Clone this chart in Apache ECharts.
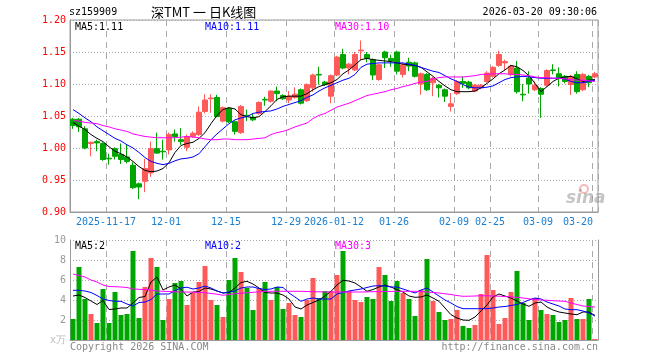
<!DOCTYPE html>
<html><head><meta charset="utf-8">
<script src="https://cdn.jsdelivr.net/npm/echarts@6/dist/echarts.min.js"></script>
<style>html,body{margin:0;padding:0;background:#fff}#c{width:660px;height:360px}</style>
</head><body><div id="c"></div><script>
const dates = ['2025-11-07','2025-11-10','2025-11-11','2025-11-12','2025-11-13','2025-11-14','2025-11-17','2025-11-18','2025-11-19','2025-11-20',
'2025-11-21','2025-11-24','2025-11-25','2025-11-26','2025-11-27','2025-11-28','2025-12-01','2025-12-02','2025-12-03','2025-12-04',
'2025-12-05','2025-12-08','2025-12-09','2025-12-10','2025-12-11','2025-12-12','2025-12-15','2025-12-16','2025-12-17','2025-12-18',
'2025-12-19','2025-12-22','2025-12-23','2025-12-24','2025-12-25','2025-12-26','2025-12-29','2025-12-30','2025-12-31','2026-01-05',
'2026-01-06','2026-01-07','2026-01-08','2026-01-09','2026-01-12','2026-01-13','2026-01-14','2026-01-15','2026-01-16','2026-01-19',
'2026-01-20','2026-01-21','2026-01-22','2026-01-23','2026-01-26','2026-01-27','2026-01-28','2026-01-29','2026-01-30','2026-02-02',
'2026-02-03','2026-02-04','2026-02-05','2026-02-06','2026-02-09','2026-02-10','2026-02-11','2026-02-12','2026-02-13','2026-02-24',
'2026-02-25','2026-02-26','2026-02-27','2026-03-02','2026-03-03','2026-03-04','2026-03-05','2026-03-06','2026-03-09','2026-03-10',
'2026-03-11','2026-03-12','2026-03-13','2026-03-16','2026-03-17','2026-03-18','2026-03-19','2026-03-20'];

const opens = [1.045,1.045,1.030,1.007,1.010,1.007,0.984,0.999,0.990,0.986,
0.973,0.944,0.948,0.961,0.999,0.995,0.997,1.022,1.013,1.001,
1.018,1.021,1.057,1.077,1.079,1.042,1.062,1.041,1.024,1.051,
1.048,1.054,1.076,1.073,1.089,1.082,1.075,1.079,1.091,1.074,
1.094,1.115,1.103,1.081,1.114,1.146,1.125,1.122,1.152,1.146,
1.138,1.107,1.150,1.140,1.150,1.115,1.134,1.133,1.100,1.115,
1.102,1.098,1.091,1.065,1.085,1.104,1.103,1.089,1.094,1.104,
1.112,1.129,1.133,1.115,1.125,1.084,1.109,1.091,1.093,1.098,
1.122,1.116,1.112,1.099,1.115,1.091,1.112,1.111];
const closes = [1.035,1.033,1.000,1.009,1.008,0.982,0.983,0.987,0.982,0.979,
0.938,0.939,0.968,0.999,0.992,0.994,1.021,1.018,1.010,1.018,
1.023,1.056,1.075,1.078,1.049,1.063,1.041,1.026,1.065,1.050,
1.044,1.071,1.075,1.089,1.085,1.077,1.081,1.084,1.070,1.099,
1.114,1.114,1.099,1.113,1.142,1.125,1.131,1.146,1.153,1.140,
1.114,1.130,1.141,1.136,1.120,1.130,1.128,1.112,1.116,1.091,
1.109,1.094,1.081,1.069,1.104,1.101,1.094,1.098,1.098,1.117,
1.126,1.146,1.135,1.128,1.088,1.083,1.100,1.098,1.084,1.121,
1.121,1.109,1.104,1.112,1.088,1.115,1.102,1.116];
const lows = [1.030,1.025,0.998,0.987,0.995,0.980,0.974,0.982,0.975,0.976,
0.936,0.920,0.931,0.955,0.991,0.982,0.990,1.010,1.005,0.995,
1.016,1.019,1.054,1.055,1.048,1.040,1.039,1.021,1.022,1.042,
1.042,1.052,1.066,1.071,1.073,1.075,1.070,1.077,1.068,1.072,
1.088,1.099,1.097,1.070,1.112,1.123,1.115,1.120,1.137,1.134,
1.106,1.105,1.125,1.127,1.115,1.110,1.120,1.110,1.083,1.089,
1.081,1.079,1.072,1.057,1.083,1.094,1.092,1.087,1.092,1.102,
1.110,1.127,1.122,1.112,1.085,1.073,1.085,1.089,1.047,1.096,
1.115,1.096,1.101,1.083,1.085,1.089,1.095,1.109];
const highs = [1.047,1.047,1.034,1.010,1.013,1.009,0.991,1.001,1.007,1.005,
0.978,0.946,0.983,1.010,1.024,1.013,1.024,1.029,1.031,1.021,
1.026,1.065,1.084,1.084,1.083,1.065,1.064,1.043,1.067,1.060,
1.053,1.073,1.080,1.090,1.096,1.084,1.089,1.095,1.093,1.101,
1.116,1.127,1.105,1.115,1.144,1.155,1.133,1.150,1.168,1.150,
1.140,1.132,1.152,1.146,1.152,1.132,1.141,1.135,1.118,1.117,
1.111,1.100,1.093,1.086,1.106,1.112,1.105,1.100,1.100,1.120,
1.128,1.152,1.138,1.130,1.136,1.100,1.120,1.104,1.095,1.123,
1.131,1.126,1.114,1.114,1.120,1.117,1.114,1.119];

const ma5 = [1.040,1.034,1.029,1.021,1.015,1.010,1.002,0.995,0.991,0.986,
0.979,0.971,0.965,0.963,0.964,0.968,0.977,0.993,1.004,1.007,
1.009,1.015,1.024,1.038,1.051,1.060,1.063,1.061,1.052,1.049,
1.047,1.049,1.057,1.066,1.076,1.080,1.081,1.081,1.081,1.085,
1.091,1.096,1.099,1.102,1.107,1.116,1.122,1.130,1.138,1.140,
1.138,1.137,1.136,1.135,1.133,1.131,1.130,1.129,1.126,1.119,
1.112,1.104,1.097,1.091,1.088,1.088,1.088,1.089,1.094,1.101,
1.108,1.116,1.122,1.129,1.127,1.121,1.113,1.101,1.088,1.096,
1.104,1.109,1.111,1.112,1.108,1.104,1.106,1.107];
const ma10 = [1.060,1.054,1.047,1.041,1.033,1.027,1.021,1.015,1.011,1.005,
1.000,0.993,0.985,0.979,0.976,0.974,0.976,0.980,0.983,0.984,
0.986,0.991,1.002,1.013,1.022,1.030,1.038,1.044,1.047,1.049,
1.054,1.056,1.057,1.058,1.061,1.065,1.068,1.071,1.074,1.079,
1.083,1.089,1.094,1.098,1.102,1.106,1.109,1.115,1.126,1.131,
1.132,1.133,1.133,1.133,1.133,1.133,1.131,1.129,1.126,1.123,
1.120,1.118,1.113,1.108,1.104,1.099,1.095,1.094,1.094,1.095,
1.097,1.102,1.107,1.110,1.111,1.112,1.111,1.110,1.109,1.109,
1.109,1.109,1.108,1.104,1.102,1.102,1.104,1.106];
const ma30 = [1.043,1.042,1.040,1.039,1.038,1.035,1.033,1.030,1.028,1.026,
1.022,1.020,1.018,1.017,1.016,1.016,1.016,1.016,1.017,1.018,
1.017,1.016,1.014,1.013,1.013,1.014,1.014,1.013,1.013,1.013,
1.014,1.015,1.016,1.021,1.024,1.026,1.029,1.033,1.036,1.039,
1.046,1.051,1.054,1.059,1.064,1.067,1.070,1.074,1.078,1.082,
1.084,1.086,1.088,1.091,1.093,1.096,1.098,1.101,1.103,1.104,
1.108,1.110,1.111,1.111,1.111,1.111,1.112,1.113,1.115,1.115,
1.116,1.116,1.116,1.115,1.115,1.114,1.113,1.111,1.110,1.110,
1.109,1.109,1.108,1.107,1.106,1.106,1.105,1.104];

const volumes = [2.1,7.3,4.1,2.6,1.7,5.1,1.7,4.8,2.5,2.6,
8.9,2.2,5.3,8.2,7.3,2.0,4.1,5.7,5.9,3.5,
4.7,5.8,7.4,4.0,3.5,2.3,6.0,8.2,6.8,5.2,
3.0,5.2,5.8,4.0,5.3,3.1,3.7,2.5,2.3,4.0,
6.2,4.2,4.9,4.9,6.5,8.9,4.9,4.0,3.8,4.3,
4.1,7.3,6.5,3.9,5.9,4.7,4.1,2.4,5.0,8.1,
3.9,2.8,2.0,2.1,3.0,1.4,1.2,1.5,4.6,8.5,
5.0,1.6,2.2,4.8,6.9,3.7,2.0,4.2,3.0,2.6,
2.5,1.8,2.0,4.2,2.1,2.1,4.1,0.1];
const vma5 = [4.4,4.5,4.25,3.9,3.55,3.95,3.05,3.1,3.2,3.2,
3.7,4.25,4.35,5.8,6.3,5.0,5.3,5.5,5.1,4.4,
4.8,4.85,5.2,5.1,4.9,4.7,4.75,5.2,5.75,5.87,
5.6,5.2,4.75,4.7,4.7,4.5,4.1,3.3,3.1,3.5,
3.75,4.0,4.4,4.87,5.5,5.97,5.9,5.7,5.3,4.87,
5.05,5.3,5.5,5.3,5.03,4.8,4.4,4.27,4.3,4.5,
4.2,3.87,3.2,2.53,2.2,2.0,1.97,2.3,2.9,3.5,
4.3,4.6,4.4,4.2,3.9,3.6,3.37,3.7,3.8,3.3,
3.0,2.8,2.7,2.6,2.53,2.8,2.8,2.45];
const vma10 = [4.97,4.97,4.9,4.75,4.45,4.1,3.95,3.87,3.87,3.6,
3.4,3.75,3.8,4.05,4.6,4.6,4.6,4.95,5.2,5.28,
5.1,5.2,5.4,5.2,4.9,4.7,4.8,4.9,5.2,5.3,
5.3,5.15,5.05,5.1,5.3,5.25,4.7,4.3,3.87,4.1,
4.2,4.1,4.1,4.1,4.6,4.75,4.9,5.0,5.1,5.25,
5.4,5.43,5.4,5.3,5.3,5.1,4.9,4.7,5.0,5.2,
4.8,4.4,4.0,3.7,3.35,3.13,3.13,3.13,3.13,3.13,
3.2,3.3,3.35,3.45,3.55,3.75,4.0,4.2,4.1,3.8,
3.6,3.4,3.1,3.03,3.03,2.9,2.7,2.4];
const vma30 = [6.6,6.45,6.3,6.0,5.8,5.5,5.35,5.33,5.3,5.25,
5.1,5.07,5.04,5.0,4.9,4.87,4.85,4.82,4.8,4.8,
4.78,4.77,4.72,4.65,4.58,4.47,4.55,4.63,4.68,4.72,
4.77,4.82,4.87,4.87,4.87,4.87,4.87,4.87,4.87,4.85,
4.83,4.82,4.8,4.8,4.8,4.8,4.8,4.8,4.8,4.81,
4.83,4.84,4.85,4.86,4.87,4.87,4.87,4.87,4.85,4.8,
4.75,4.7,4.62,4.55,4.45,4.37,4.38,4.4,4.43,4.42,
4.4,4.38,4.35,4.3,4.27,4.2,4.12,4.05,4.0,3.97,
3.93,3.9,3.87,3.7,3.55,3.4,3.35,3.3];

const tickIdx = [6,16,26,36,44,54,64,70,78,87];
const tickLabels = ['2025-11-17','12-01','12-15','12-29','2026-01-12','01-26','02-09','02-25','03-09','03-20'];
const priceLegend = ['MA5:1.11','MA10:1.11','MA30:1.10'];
const volLegend = ['MA5:2','MA10:2','MA30:3'];

const RED = '#ff5a5a', GREEN = '#00a600';
const MONO = '"DejaVu Sans Mono","Liberation Mono",monospace';
const BORDER = '#9a9a9a';

const candleData = dates.map((d, i) => [opens[i], closes[i], lows[i], highs[i]]);
const volData = volumes.map((v, i) => ({value: v, itemStyle: {color: closes[i] >= opens[i] ? RED : GREEN}}));

const vSplit = {show: true, interval: (i) => tickIdx.includes(i), lineStyle: {color: '#aaaaaa', type: [6, 5], width: 1}};
const hSplit = {show: true, lineStyle: {color: '#aaaaaa', type: [1, 2], width: 1}};

function line(data, color, x, y) {
  return {type: 'line', xAxisIndex: x, yAxisIndex: y, data: data, symbol: 'none', z: 4,
    lineStyle: {color: color, width: 1}, itemStyle: {color: color}, silent: true};
}
function txt(text, x, y, fill, font, align) {
  return {type: 'text', x: x, y: y, z: 100, style: {text: text, fill: fill, font: font || ('10px ' + MONO), align: align || 'left', verticalAlign: 'middle'}};
}

const chart = echarts.init(document.getElementById('c'), null, {renderer: 'canvas'});
chart.setOption({
  animation: false,
  backgroundColor: '#ffffff',
  grid: [
    {left: 70, top: 20, width: 528, height: 192, show: true, borderColor: BORDER, borderWidth: 1, backgroundColor: 'transparent'},
    {left: 70, top: 240, width: 528, height: 100}
  ],
  xAxis: [
    {type: 'category', gridIndex: 0, data: dates, boundaryGap: true,
      axisLine: {show: true, lineStyle: {color: BORDER}}, axisTick: {show: false},
      axisLabel: {interval: (i) => tickIdx.includes(i), margin: 5,
        formatter: (v, i) => {
          const k = tickIdx.indexOf(i);
          const t = k >= 0 ? tickLabels[k] : '';
          return i === dates.length - 1 ? '{e|' + t + '}' : '{n|' + t + '}';
        },
        rich: {
          n: {color: '#1a7fd0', fontFamily: MONO, fontSize: 10, padding: [0, 6, 0, 0]},
          e: {color: '#1a7fd0', fontFamily: MONO, fontSize: 10, padding: [0, 34, 0, 0]}
        }},
      splitLine: vSplit},
    {type: 'category', gridIndex: 1, data: dates, boundaryGap: true, position: 'top',
      axisLine: {show: true, lineStyle: {color: BORDER}}, axisTick: {show: false},
      axisLabel: {show: false}, splitLine: vSplit}
  ],
  yAxis: [
    {type: 'value', gridIndex: 0, min: 0.9, max: 1.2, interval: 0.05,
      axisLine: {show: true, lineStyle: {color: BORDER}}, axisTick: {show: false},
      axisLabel: {color: '#ff0000', fontFamily: MONO, fontSize: 10, margin: 4, formatter: (v) => v.toFixed(2)},
      splitLine: hSplit},
    {type: 'value', gridIndex: 1, min: 0, max: 10, interval: 2,
      axisLine: {show: true, lineStyle: {color: BORDER}}, axisTick: {show: false},
      axisLabel: {color: '#999999', fontFamily: MONO, fontSize: 10, margin: 4,
        formatter: (v) => v === 0 ? '{u|x万}' : String(v),
        rich: {u: {color: '#bbbbbb', fontFamily: MONO, fontSize: 10}}},
      splitLine: hSplit},
    {type: 'value', gridIndex: 1, min: 0, max: 10, position: 'right',
      axisLine: {show: true, lineStyle: {color: BORDER}}, axisTick: {show: false},
      axisLabel: {show: false}, splitLine: {show: false}}
  ],
  series: [
    {type: 'candlestick', xAxisIndex: 0, yAxisIndex: 0, data: candleData, barWidth: 5, z: 3,
      itemStyle: {color: RED, color0: GREEN, borderColor: RED, borderColor0: GREEN, borderWidth: 1}},
    line(ma5, '#000000', 0, 0),
    line(ma10, '#0000ff', 0, 0),
    line(ma30, '#ff00ff', 0, 0),
    {type: 'bar', xAxisIndex: 1, yAxisIndex: 1, data: volData, barWidth: 5, z: 3},
    line(vma5, '#000000', 1, 1),
    line(vma10, '#0000ff', 1, 1),
    line(vma30, '#ff00ff', 1, 1)
  ],
  graphic: [
    txt('sz159909', 69, 12, '#000000'),
    txt('深TMT 一 日K线图', 151, 12, '#000000', '13px "Noto Sans CJK SC"'),
    txt('2026-03-20 09:30:06', 597, 12, '#000000', null, 'right'),
    txt(priceLegend[0], 75, 27, '#000000'),
    txt(priceLegend[1], 205, 27, '#0000ff'),
    txt(priceLegend[2], 335, 27, '#ff00ff'),
    txt(volLegend[0], 75, 246, '#000000'),
    txt(volLegend[1], 205, 246, '#0000ff'),
    txt(volLegend[2], 335, 246, '#ff00ff'),
    txt('Copyright 2026 SINA.COM', 70, 347, '#888888'),
    txt('http://finance.sina.com.cn', 598, 347, '#888888', null, 'right'),
    {type: 'circle', shape: {cx: 584, cy: 189, r: 4}, z: 1, style: {fill: 'rgba(255,255,255,0)', stroke: 'rgba(235,140,140,0.6)', lineWidth: 2}},
    txt('sina', 566, 199, 'rgba(150,150,150,0.55)', 'italic bold 17px "DejaVu Sans"')
  ]
});
</script></body></html>
